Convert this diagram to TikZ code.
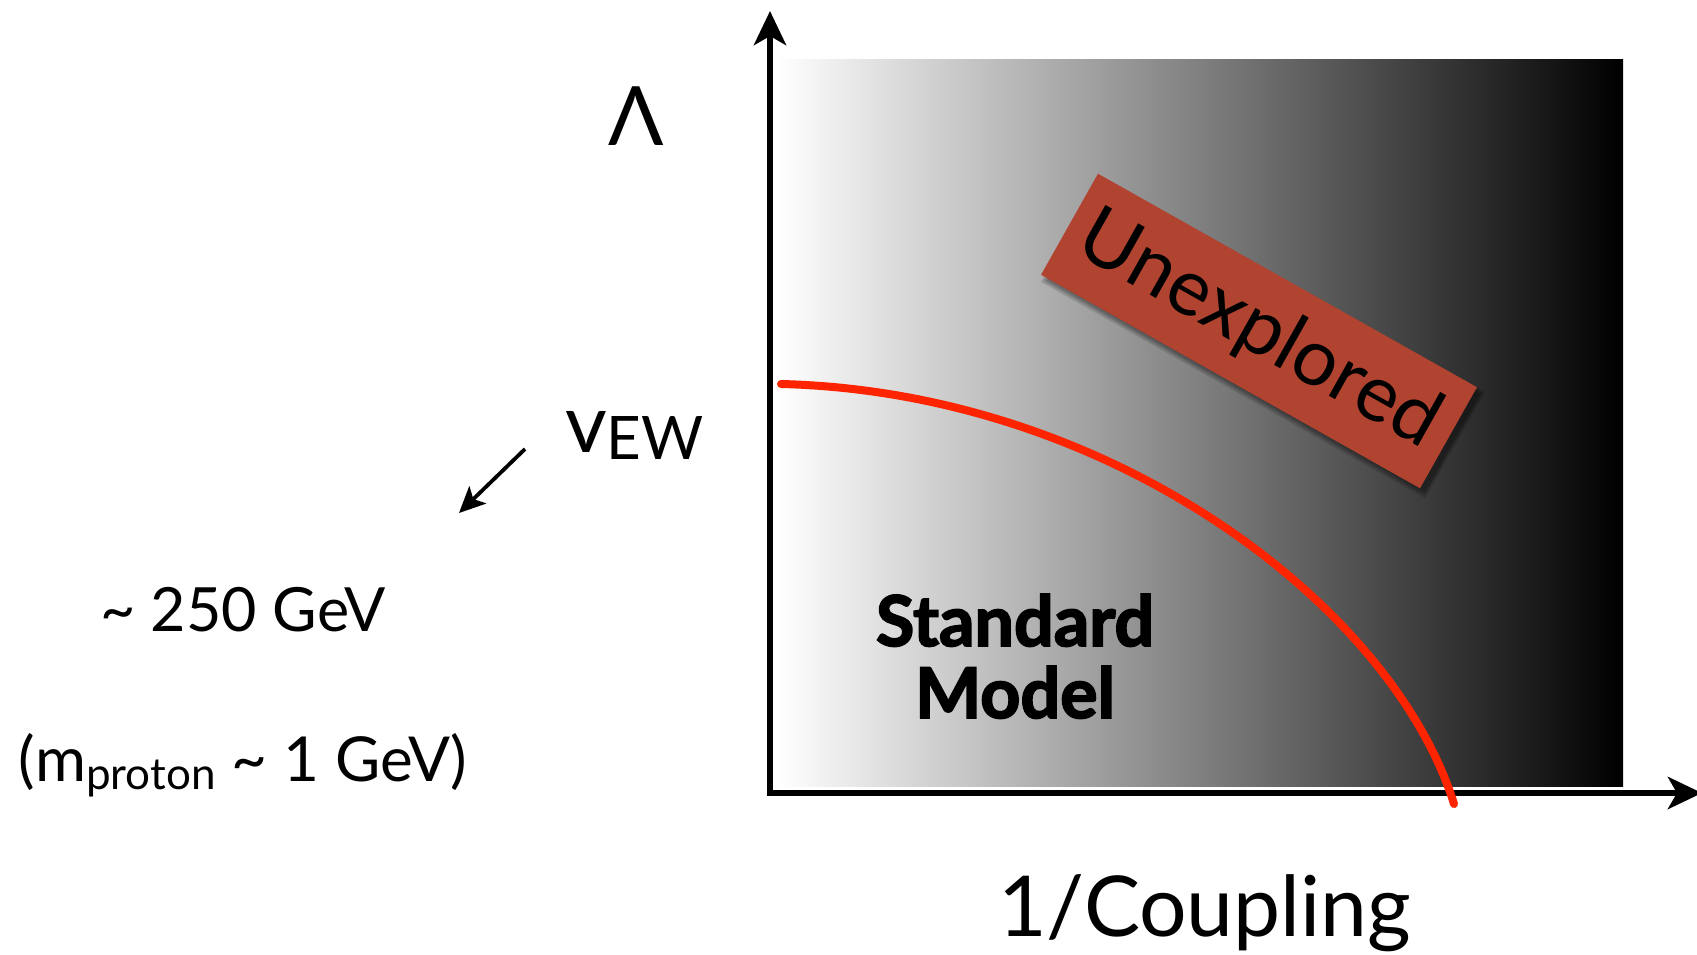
\documentclass[tikz,border=0pt]{standalone}
\usepackage{fontspec}
\setmainfont{Lato}
\newfontfamily\heavyfont{Lato}[BoldFeatures={FakeBold=2.5}]
\usetikzlibrary{arrows.meta}
\definecolor{stamp}{RGB}{176,68,48}
\definecolor{curvered}{RGB}{255,36,0}
\tikzset{
  axisline/.style={line width=6.5pt, line cap=rect, -{Stealth[length=34pt,width=32pt,inset=9pt]}},
  pointer/.style={line width=3.8pt, -{Stealth[length=26pt,width=24pt,inset=6pt]}},
  label/.style={inner sep=0pt, outer sep=0pt},
  stampbox/.style={fill=stamp, minimum width=435pt, minimum height=116pt, inner sep=0pt},
  softshadow/.style={fill=black, opacity=0.13, minimum width=435pt, minimum height=116pt, inner sep=0pt},
  boundary/.style={draw=curvered, line width=8pt, line cap=round}
}
\begin{document}
\begin{tikzpicture}[x=1pt,y=-1pt]
\useasboundingbox (0,0) rectangle (1697,955);
\fill[white] (0,0) rectangle (1697,955);
% gradient region
\shade[left color=white, right color=black] (777,59.5) rectangle (1623,786);
% axes
\coordinate (origin) at (770,793);
\coordinate (ytip) at (770,11);
\coordinate (xtip) at (1702,793);
\draw[axisline] (origin) -- (ytip);
\draw[axisline] (origin) -- (xtip);
% boundary curve
\coordinate (c0) at (781,384);
\coordinate (c3) at (1454,804);
\draw[boundary] (c0) .. controls (1110,392) and (1392,605) .. (c3);
% unexplored stamp with soft shadow
\node[softshadow, rotate=-29.4, minimum width=441pt, minimum height=122pt] (sh1) at (1263,337) {};
\node[softshadow, rotate=-29.4, minimum width=437pt, minimum height=118pt] (sh2) at (1263,337) {};
\node[softshadow, rotate=-29.4] (sh3) at (1264,337) {};
\node[softshadow, rotate=-29.4, minimum width=431pt, minimum height=112pt] (sh4) at (1264,337) {};
\node[stampbox, rotate=-29.4] (unexp) at (1259,331) {};
\node[label, rotate=-29.4, font=\fontsize{79}{79}\selectfont] (unexptext) at (unexp.center) {Unexplored};
% texts
\node[label, anchor=base, font=\fontsize{82}{82}\selectfont] (lambda) at (636,146) {Λ};
\node[label, anchor=base west] (vew) at (565,452) {\fontsize{81}{81}\selectfont v\raisebox{-7pt}{\fontsize{60}{60}\selectfont EW}};
\coordinate (p0) at (525,449);
\coordinate (p1) at (459,513);
\draw[pointer] (p0) -- (p1);
\node[label, anchor=base west, font=\fontsize{61}{61}\selectfont] (gev) at (100,631) {\char`~\ 250 GeV};
\node[label, anchor=base west, font=\fontsize{62}{62}\selectfont] (mproton) at (19,781) {(m\raisebox{-8pt}{\fontsize{44}{44}\selectfont proton} \char`~\ 1 GeV)};
\node[label, anchor=base, font=\fontsize{70}{70}\selectfont\heavyfont\bfseries] (sm1) at (1015,646) {Standard};
\node[label, anchor=base, font=\fontsize{70}{70}\selectfont\heavyfont\bfseries] (sm2) at (1015,718) {Model};
\node[label, anchor=base west, font=\fontsize{84}{84}\selectfont] (xlabel) at (998,936) {1/Coupling};
\end{tikzpicture}
\end{document}
